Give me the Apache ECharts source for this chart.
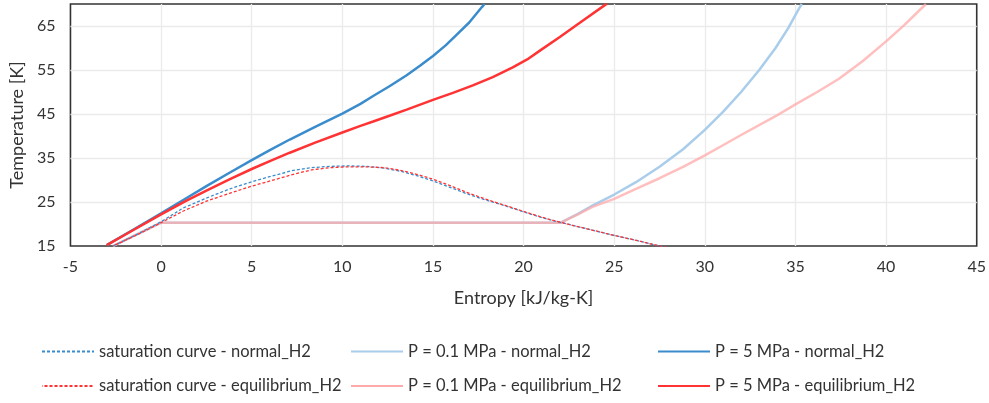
<!DOCTYPE html>
<html>
<head>
<meta charset="utf-8">
<script src="https://cdn.jsdelivr.net/npm/echarts@6/dist/echarts.min.js"></script>
<style>
html,body{margin:0;padding:0;background:#fff;}
#chart{width:989px;height:403px;}
</style>
</head>
<body>
<div id="chart"></div>
<script>
// Entropy [kJ/kg-K] and Temperature [K] pairs
const satNormalS = [-2.65,-1.3,0.0,1.2,2.5,3.8,5.0,6.2,7.3,8.3,9.3,10.3,11.3,12.3,13.2,14.1,15.0,15.9,16.85,17.8,18.7,19.6,20.5,21.3,22.1,23.5,24.9,26.3,27.6,28.0];
const satNormalT = [15.0,17.7,20.5,23.6,25.9,28.0,29.6,31.0,32.2,32.8,33.1,33.2,33.1,32.7,32.0,31.0,29.8,28.4,26.9,25.6,24.5,23.3,22.1,21.1,20.3,18.9,17.5,16.2,14.9,14.6];

const satEquilS = [-2.65,-1.3,0.0,1.2,2.5,3.8,5.0,6.2,7.3,8.3,9.3,10.3,11.3,12.3,13.2,14.1,15.0,15.9,16.85,17.8,18.7,19.6,20.5,21.3,22.1,23.5,24.9,26.3,27.6,28.0];
const satEquilT = [15.0,17.6,20.3,22.9,25.2,27.0,28.6,30.0,31.3,32.3,32.8,33.0,33.0,32.8,32.2,31.3,30.2,28.8,27.2,25.8,24.6,23.4,22.2,21.2,20.3,18.9,17.5,16.2,14.9,14.6];

const p01NormalS = [-2.65,0.0,22.05,23.0,23.8,25.0,26.2,27.5,28.8,30.0,31.0,32.0,33.0,33.9,34.6,35.2,35.35];
const p01NormalT = [15.0,20.3,20.3,22.3,24.2,26.7,29.5,33.0,37.0,41.4,45.5,50.0,55.0,60.0,64.5,69.0,70.0];

const p01EquilS = [-2.65,0.0,22.05,23.0,23.8,25.0,26.2,27.5,28.8,30.0,31.0,31.9,33.9,35.0,36.2,37.4,38.7,40.0,41.0,42.0,42.2];
const p01EquilT = [15.0,20.3,20.3,22.2,23.9,25.7,28.0,30.4,33.0,35.6,37.9,40.0,44.5,47.2,50.0,53.0,57.0,61.5,65.2,69.2,70.0];

const p5NormalS = [-3.0,-1.5,0.0,1.2,2.5,3.8,5.0,6.0,7.1,8.5,10.0,11.0,11.7,12.6,13.55,14.3,15.0,15.7,16.3,17.0,17.7,17.85];
const p5NormalT = [15.2,18.8,22.4,25.4,28.6,31.7,34.5,36.8,39.2,42.1,45.1,47.3,49.1,51.3,53.8,56.0,58.2,60.6,63.0,65.8,69.3,70.0];

const p5EquilS = [-3.0,-1.5,0.0,1.4,2.5,3.8,5.0,6.0,7.1,8.5,10.0,11.0,11.7,12.6,13.55,15.0,16.1,17.2,18.3,19.4,20.2,20.9,22.0,23.2,24.5,24.6];
const p5EquilT = [15.2,18.7,22.2,25.3,27.6,30.2,32.5,34.3,36.2,38.5,40.8,42.3,43.3,44.6,46.0,48.2,49.8,51.5,53.4,55.6,57.4,59.4,62.5,66.0,69.8,70.0];

const names = [
  'saturation curve - normal_H2',
  'saturation curve - equilibrium_H2',
  'P = 0.1 MPa - normal_H2',
  'P = 0.1 MPa - equilibrium_H2',
  'P = 5 MPa - normal_H2',
  'P = 5 MPa - equilibrium_H2'
];
const xTicks = {min: -5, max: 45, interval: 5};
const yTicks = {min: 15, max: 70, interval: 10};

function pairs(s, t){ return s.map((v,i)=>[v,t[i]]); }

const FONT = 'Lato, "Liberation Sans", sans-serif';
const chart = echarts.init(document.getElementById('chart'), null, {renderer:'canvas'});

function legendCol(left, items){
  return {
    orient: 'vertical', left: left, top: 338,
    itemWidth: 52, itemHeight: 14, itemGap: 17.5,
    data: items.map(n => ({name: n, lineStyle: {opacity: 1}})),
    itemStyle: {opacity: 0},
    textStyle: {fontFamily: FONT, fontSize: 16.5, color: '#333'}
  };
}

const option = {
  animation: false,
  backgroundColor: '#fff',
  grid: {left: 70, right: 11, top: 4, bottom: 157, show: true, borderColor: '#333', borderWidth: 1.6, containLabel: false},
  legend: [
    legendCol(36, [names[0], names[1]]),
    legendCol(345, [names[2], names[3]]),
    legendCol(652, [names[4], names[5]])
  ],
  xAxis: {
    type: 'value', min: xTicks.min, max: xTicks.max, interval: xTicks.interval,
    name: 'Entropy [kJ/kg-K]', nameLocation: 'middle', nameGap: 43,
    nameTextStyle: {fontFamily: FONT, fontSize: 18, color: '#333'},
    axisLine: {show: false, onZero: false},
    axisTick: {show: false},
    axisLabel: {fontFamily: FONT, fontSize: 16, color: '#333', margin: 13},
    splitLine: {show: true, showMinLine: false, showMaxLine: false, lineStyle: {color: '#ebebeb', width: 1.3}}
  },
  yAxis: {
    type: 'value', min: yTicks.min, max: yTicks.max, interval: yTicks.interval,
    name: 'Temperature [K]', nameLocation: 'middle', nameGap: 44, nameRotate: 90,
    nameTextStyle: {fontFamily: FONT, fontSize: 18, color: '#333'},
    axisLine: {show: false, onZero: false},
    axisTick: {show: false},
    axisLabel: {fontFamily: FONT, fontSize: 16, color: '#333', margin: 15, showMaxLabel: false},
    splitLine: {show: true, showMinLine: false, showMaxLine: false, lineStyle: {color: '#ebebeb', width: 1.3}}
  },
  series: [
    {name: names[2], type: 'line', symbol: 'none', data: pairs(p01NormalS, p01NormalT),
     lineStyle: {color: '#a9cdea', width: 2.5}, itemStyle: {color: '#a9cdea'}},
    {name: names[3], type: 'line', symbol: 'none', data: pairs(p01EquilS, p01EquilT),
     lineStyle: {color: '#ffaaaa', width: 2.5, opacity: 0.75}, itemStyle: {color: '#ffaaaa'}},
    {name: names[0], type: 'line', symbol: 'none', data: pairs(satNormalS, satNormalT),
     lineStyle: {color: '#3a8ccc', width: 1.3, type: [3, 2]}, itemStyle: {color: '#3a8ccc'}},
    {name: names[1], type: 'line', symbol: 'none', data: pairs(satEquilS, satEquilT),
     lineStyle: {color: '#ff3333', width: 1.3, type: [3, 2], dashOffset: 2.5}, itemStyle: {color: '#ff3333'}},
    {name: names[4], type: 'line', symbol: 'none', data: pairs(p5NormalS, p5NormalT),
     lineStyle: {color: '#3a8ccc', width: 2.5}, itemStyle: {color: '#3a8ccc'}},
    {name: names[5], type: 'line', symbol: 'none', data: pairs(p5EquilS, p5EquilT),
     lineStyle: {color: '#ff3333', width: 2.5}, itemStyle: {color: '#ff3333'}}
  ]
};
chart.setOption(option);
</script>
</body>
</html>
